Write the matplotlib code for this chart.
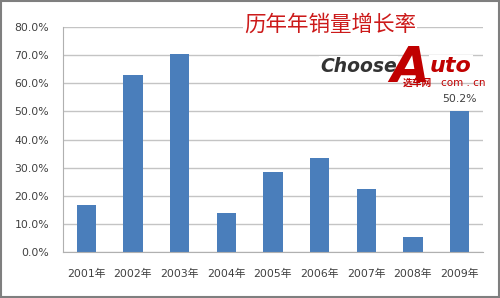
import matplotlib
matplotlib.use('Agg')
from matplotlib import pyplot as plt
from matplotlib.patches import Rectangle

years = ['2001年', '2002年', '2003年', '2004年', '2005年', '2006年', '2007年', '2008年', '2009年']
growth = [16.7, 62.9, 70.5, 13.9, 28.4, 33.6, 22.4, 5.2, 50.2]
y_ticks = [0, 10, 20, 30, 40, 50, 60, 70, 80]
title = '历年年销量增长率'

W, H = 500, 298
plt.rcParams['font.family'] = ['DejaVu Sans', 'Noto Sans CJK SC']


def fx(x):
    return x / W


def fy(y):
    return 1 - y / H


def main():
    fig = plt.figure(figsize=(5, 2.98), dpi=100)
    ax = fig.add_axes([fx(63), fy(252), fx(483) - fx(63), fy(27) - fy(252)])

    xs = range(len(years))
    ax.bar(xs, growth, width=0.41, color='#4a7ebb', zorder=2)
    ax.set_xlim(-0.5, len(years) - 0.5)
    ax.set_ylim(0, 80)
    ax.set_yticks(y_ticks)
    ax.set_yticklabels(['%.1f%%' % v for v in y_ticks])
    ax.set_xticks(list(xs))
    ax.set_xticklabels(years)
    ax.tick_params(length=0, labelsize=7.8, colors='#404040')
    ax.tick_params(axis='x', pad=12)
    ax.tick_params(axis='y', pad=10)
    ax.grid(axis='y', color='#c4c4c4', linewidth=1, zorder=0)
    for side in ['top', 'right']:
        ax.spines[side].set_visible(False)
    for side in ['left', 'bottom']:
        ax.spines[side].set_color('#b0b0b0')

    # data label on last bar
    ax.annotate('%.1f%%' % growth[-1], (len(years) - 1, growth[-1]), xytext=(0, 5),
                textcoords='offset points', ha='center', va='bottom', fontsize=7.8, color='#404040')

    # title
    fig.text(fx(330), fy(25), title, ha='center', va='center', fontsize=15.5,
             color='#cc1a1a', family=['Noto Sans CJK SC'],
             bbox=dict(facecolor='white', edgecolor='none', pad=1))

    # logo
    fig.text(fx(320), fy(72), 'Choose', ha='left', va='baseline', fontsize=13.5,
             fontweight='bold', style='italic', color='#333333',
             bbox=dict(facecolor='white', edgecolor='none', pad=1))
    fig.text(fx(390), fy(82), 'A', ha='left', va='baseline', fontsize=36,
             fontweight='bold', style='oblique', color='#c00000')
    fig.text(fx(430), fy(72), 'uto', ha='left', va='baseline', fontsize=16,
             fontweight='bold', style='italic', color='#c00000',
             bbox=dict(facecolor='white', edgecolor='none', pad=1))
    fig.text(fx(403), fy(86), '选车网', ha='left', va='baseline', fontsize=7,
             fontweight='bold', color='#c00000', family=['Noto Sans CJK SC'])
    fig.text(fx(441), fy(86), 'com . cn', ha='left', va='baseline', fontsize=7.5,
             color='#c00000')

    # outer frame
    fig.patches.append(Rectangle((0.002, 0.003), 0.995, 0.994, transform=fig.transFigure,
                                 fill=False, edgecolor='#7f7f7f', linewidth=1.5))

    fig.savefig('out.png', dpi=100)


if __name__ == "__main__":
    main()
